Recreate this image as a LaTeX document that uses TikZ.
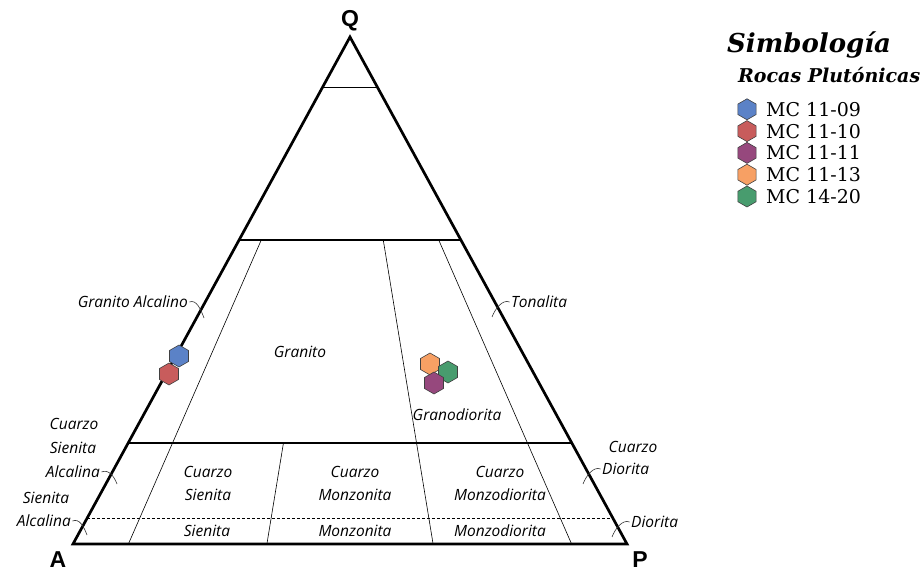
\documentclass[tikz,border=0pt]{standalone}
\usepackage{fontspec}
\setmainfont{Open Sans}
\newfontfamily\legendfont{DejaVu Serif}
\newfontfamily\vertexfont{Liberation Sans}
\usetikzlibrary{shapes.geometric}
\definecolor{hexblue}{RGB}{91,130,199}
\definecolor{hexred}{RGB}{200,92,92}
\definecolor{hexpurple}{RGB}{150,72,125}
\definecolor{hexorange}{RGB}{247,160,100}
\definecolor{hexgreen}{RGB}{72,156,110}
\begin{document}
\begin{tikzpicture}[x=1pt,y=-1pt]
\tikzset{field/.style={font=\fontsize{15.5}{18}\selectfont\itshape,inner sep=0pt}}
\tikzset{vertex/.style={font=\vertexfont\bfseries\fontsize{23}{23}\selectfont,inner sep=0pt}}
\tikzset{hexa/.style={regular polygon,regular polygon sides=6,shape border rotate=30,
  draw=black!75,line width=0.6pt,minimum size=22pt,inner sep=0pt}}
\tikzset{leader/.style={line width=0.6pt,black!80}}
\tikzset{legtext/.style={font=\legendfont\fontsize{19}{19}\selectfont,inner sep=0pt,anchor=west}}
\useasboundingbox (0,0) rectangle (922,572);
%vertices
\coordinate (A) at (73,544);
\coordinate (P) at (627,544);
\coordinate (Q) at (350,37);
\node[vertex] (qlab) at (350,21) {Q};
\node[vertex] (alab) at (58,560) {A};
\node[vertex] (plab) at (640,560) {P};
%outer triangle
\draw[line width=2.7pt,line join=miter] (A) -- (P) -- (Q) -- cycle;
%quartz levels
\draw[line width=0.8pt] (barycentric cs:A=0.1,Q=0.9) -- (barycentric cs:P=0.1,Q=0.9);
\foreach \q in {0.6,0.2}{
\pgfmathsetmacro{\w}{1-\q}
\draw[line width=1.9pt] (barycentric cs:A=\w,Q=\q) -- (barycentric cs:P=\w,Q=\q);}
\draw[line width=1pt,dash pattern=on 3pt off 2pt] (barycentric cs:A=0.95,Q=0.05) -- (barycentric cs:P=0.95,Q=0.05);
%plagioclase ratio lines
\foreach \r/\qtop in {0.1/0.6, 0.35/0.2, 0.65/0.6, 0.9/0.6}{
\pgfmathsetmacro{\wa}{1-\r}
\pgfmathsetmacro{\ta}{(1-\qtop)*(1-\r)}
\pgfmathsetmacro{\tp}{(1-\qtop)*\r}
\draw[line width=0.6pt] (barycentric cs:A=\wa,P=\r) -- (barycentric cs:A=\ta,P=\tp,Q=\qtop);}
%field names
\node[field] (granito) at (300,352) {Granito};
\node[field] (granod) at (457,415) {Granodiorita};
\node[field,anchor=east] (galc) at (188,302) {Granito Alcalino};
\node[field,anchor=west] (tona) at (511,302) {Tonalita};
\node[field] (csa1) at (74,424) {Cuarzo};
\node[field] (csa2) at (73,448) {Sienita};
\node[field,anchor=east] (csa3) at (100,472) {Alcalina};
\node[field] (sa1) at (46,498) {Sienita};
\node[field,anchor=east] (sa2) at (71,521) {Alcalina};
\node[field] (cs1) at (208,472) {Cuarzo};
\node[field] (cs2) at (208,495) {Sienita};
\node[field] (cm1) at (355,472) {Cuarzo};
\node[field] (cm2) at (355,495) {Monzonita};
\node[field] (cmd1) at (500,472) {Cuarzo};
\node[field] (cmd2) at (500,495) {Monzodiorita};
\node[field] (sien) at (207,531) {Sienita};
\node[field] (monz) at (355,531) {Monzonita};
\node[field] (monzd) at (500,531) {Monzodiorita};
\node[field] (cd1) at (633,447) {Cuarzo};
\node[field,anchor=west] (cd2) at (602,469) {Diorita};
\node[field,anchor=west] (dior) at (631,522) {Diorita};
%leaders
\coordinate (galcend) at (204,318);
\coordinate (csaend) at (117,484);
\coordinate (saend) at (87,535);
\coordinate (tonaend) at (492,317);
\coordinate (cdend) at (583,484);
\coordinate (diorend) at (612,537);
\draw[leader] ([xshift=1.5pt]galc.east) .. controls +(7,-3) and +(-3,-8) .. (galcend);
\draw[leader] ([xshift=1.5pt]csa3.east) .. controls +(7,-3) and +(-3,-8) .. (csaend);
\draw[leader] ([xshift=1.5pt]sa2.east) .. controls +(7,-3) and +(-3,-8) .. (saend);
\draw[leader] ([xshift=-1.5pt]tona.west) .. controls +(-7,-3) and +(3,-8) .. (tonaend);
\draw[leader] ([xshift=-1.5pt]cd2.west) .. controls +(-7,-3) and +(3,-8) .. (cdend);
\draw[leader] ([xshift=-1.5pt]dior.west) .. controls +(-7,-3) and +(3,-8) .. (diorend);
%samples
\node[hexa,fill=hexblue] (s0911) at (179,356) {};
\node[hexa,fill=hexred] (s1011) at (169,374) {};
\node[hexa,fill=hexorange] (s1311) at (430,364) {};
\node[hexa,fill=hexgreen] (s2014) at (448,372) {};
\node[hexa,fill=hexpurple] (s1111) at (434,383) {};
%legend
\node[anchor=west,inner sep=0pt,font=\legendfont\bfseries\itshape\fontsize{26}{26}\selectfont] (simb) at (727,45) {Simbología};
\node[anchor=west,inner sep=0pt,font=\legendfont\bfseries\itshape\fontsize{19}{19}\selectfont] (rocas) at (738,75) {Rocas Plutónicas};
\foreach \c/\t [count=\i] in {hexblue/MC 11-09, hexred/MC 11-10, hexpurple/MC 11-11, hexorange/MC 11-13, hexgreen/MC 14-20}{
\pgfmathsetmacro{\yy}{87.5+21.8*\i}
\node[hexa,fill=\c,minimum size=21pt] (leg\i) at (747,\yy) {};
\node[legtext] (legt\i) at (766,\yy) {\t};}
\end{tikzpicture}
\end{document}
